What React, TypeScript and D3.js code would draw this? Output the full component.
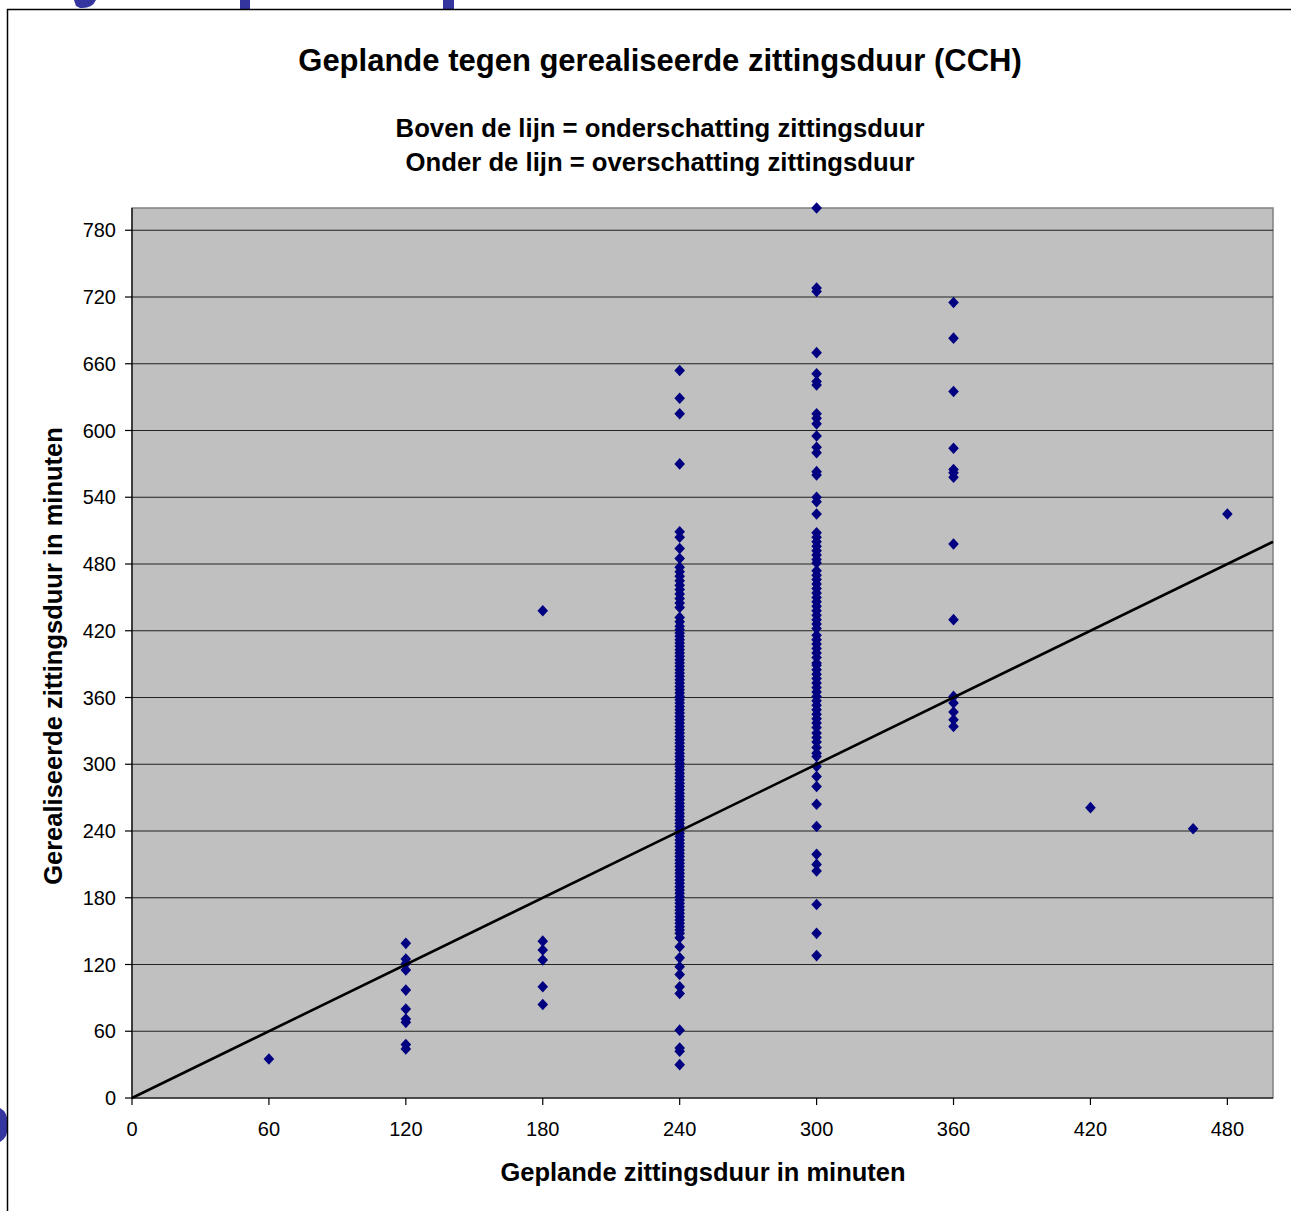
import React from "react";
import * as d3 from "d3";

const W = 1291;
const H = 1211;

const title = "Geplande tegen gerealiseerde zittingsduur (CCH)";
const subtitle1 = "Boven de lijn = onderschatting zittingsduur";
const subtitle2 = "Onder de lijn = overschatting zittingsduur";
const xAxisTitle = "Geplande zittingsduur in minuten";
const yAxisTitle = "Gerealiseerde zittingsduur in minuten";

const xTicks = [0, 60, 120, 180, 240, 300, 360, 420, 480];
const yTicks = [0, 60, 120, 180, 240, 300, 360, 420, 480, 540, 600, 660, 720, 780];

const realised60 = [35];
const realised120 = [139, 125, 121, 115, 97, 80, 71, 68, 48, 44];
const realised180 = [438, 141, 133, 124, 100, 84];
const realised240 = [
  654, 629, 615, 570, 509, 504, 494, 485, 477, 473, 469, 465, 461, 457, 453, 449,
  445, 441, 432, 428, 424, 421, 418, 415, 412, 409, 406, 403, 400, 397, 394, 391,
  388, 385, 382, 379, 376, 373, 370, 367, 364, 361, 358, 355, 352, 349, 346, 343,
  340, 337, 334, 331, 328, 325, 322, 319, 316, 313, 310, 307, 304, 301, 298, 295,
  292, 289, 286, 283, 280, 277, 274, 271, 268, 265, 262, 259, 256, 253, 250, 247,
  244, 241, 238, 235, 232, 229, 226, 223, 220, 217, 214, 211, 208, 205, 202, 199,
  196, 193, 190, 187, 184, 181, 178, 175, 172, 169, 166, 163, 160, 157, 154, 151,
  148, 144, 136, 126, 118, 111, 100, 94, 61, 45, 42, 30,
];
const realised300 = [
  800, 728, 725, 670, 651, 644, 641, 615, 611, 606, 595, 585, 580, 563, 560, 540,
  536, 525, 508, 504, 500, 496, 492, 488, 484, 481, 474, 470, 466, 462, 458, 454,
  450, 446, 442, 438, 434, 430, 426, 422, 416, 412, 408, 404, 400, 396, 391, 389,
  385, 381, 377, 373, 369, 365, 361, 357, 353, 349, 345, 341, 337, 333, 328, 324,
  320, 315, 310, 307, 298, 289, 280, 264, 244, 219, 210, 204, 174, 148, 128,
];
const realised360 = [715, 683, 635, 584, 565, 562, 558, 498, 430, 361, 355, 347, 340, 334];
const otherPlanned = [420, 465, 480];
const otherRealised = [261, 242, 525];

const refLine = [0, 500];

type Pt = { x: number; y: number };
const points: Pt[] = [
  ...realised60.map((y) => ({ x: 60, y })),
  ...realised120.map((y) => ({ x: 120, y })),
  ...realised180.map((y) => ({ x: 180, y })),
  ...realised240.map((y) => ({ x: 240, y })),
  ...realised300.map((y) => ({ x: 300, y })),
  ...realised360.map((y) => ({ x: 360, y })),
  ...otherPlanned.map((x, i) => ({ x, y: otherRealised[i] })),
];

const font = "'Liberation Sans', Arial, Helvetica, sans-serif";

export default function App() {
  const left = 132;
  const right = 1273;
  const top = 208;
  const bottom = 1098;
  const x = d3.scaleLinear().domain([0, 500]).range([left, right]);
  const y = d3.scaleLinear().domain([0, 800]).range([bottom, top]);
  const s = 5.3;
  const diamond = (px: number, py: number) =>
    `M${px},${py - s - 0.5}L${px + s},${py}L${px},${py + s + 0.5}L${px - s},${py}Z`;
  const line = d3
    .line<number>()
    .x((d) => x(d))
    .y((d) => y(d));

  return (
    <svg
      width={W}
      height={H}
      style={{ position: "absolute", left: 0, top: 0, background: "#fff" }}
      fontFamily={font}
    >
      {/* background slide fragments */}
      <g fill="#3535a0">
        <path d="M74,0 L96,0 Q92,9 80,8 L76,6 Z" />
        <rect x={240} y={0} width={10} height={9} />
        <rect x={443} y={0} width={11} height={9} />
        <path d="M0,1108 Q8,1112 8,1125 Q8,1138 0,1142 Z" />
      </g>
      <rect x={7.5} y={9.5} width={1400} height={1400} fill="#fff" stroke="#000" strokeWidth={1.5} />

      <text x={660} y={71} textAnchor="middle" fontSize={31} fontWeight="bold">
        {title}
      </text>
      <text x={660} y={137} textAnchor="middle" fontSize={25.7} fontWeight="bold">
        {subtitle1}
      </text>
      <text x={660} y={171} textAnchor="middle" fontSize={25.7} fontWeight="bold">
        {subtitle2}
      </text>

      <rect x={left} y={top} width={right - left} height={bottom - top} fill="#c0c0c0" stroke="#808080" strokeWidth={1.5} />
      {yTicks
        .filter((t) => t > 0)
        .map((t) => (
          <line key={t} x1={left} x2={right} y1={y(t)} y2={y(t)} stroke="#222" strokeWidth={1.2} />
        ))}

      {/* axes */}
      <line x1={left} x2={left} y1={top} y2={bottom} stroke="#000" strokeWidth={1.2} />
      <line x1={left} x2={right} y1={bottom} y2={bottom} stroke="#000" strokeWidth={1.2} />
      {yTicks.map((t) => (
        <g key={t}>
          <line x1={left - 7} x2={left} y1={y(t)} y2={y(t)} stroke="#000" strokeWidth={1.2} />
          <text x={left - 16} y={y(t) + 7} textAnchor="end" fontSize={20}>
            {t}
          </text>
        </g>
      ))}
      {xTicks.map((t) => (
        <g key={t}>
          <line x1={x(t)} x2={x(t)} y1={bottom} y2={bottom + 7} stroke="#000" strokeWidth={1.2} />
          <text x={x(t)} y={bottom + 38} textAnchor="middle" fontSize={20}>
            {t}
          </text>
        </g>
      ))}

      <text x={703} y={1181} textAnchor="middle" fontSize={25.5} fontWeight="bold">
        {xAxisTitle}
      </text>
      <text
        transform={`translate(62,656) rotate(-90)`}
        textAnchor="middle"
        fontSize={25.5}
        fontWeight="bold"
      >
        {yAxisTitle}
      </text>

      <g fill="#000080">
        {points.map((p, i) => (
          <path key={i} d={diamond(x(p.x), y(p.y))} />
        ))}
      </g>

      <path d={line(refLine) || ""} stroke="#000" strokeWidth={2.6} fill="none" />
    </svg>
  );
}
